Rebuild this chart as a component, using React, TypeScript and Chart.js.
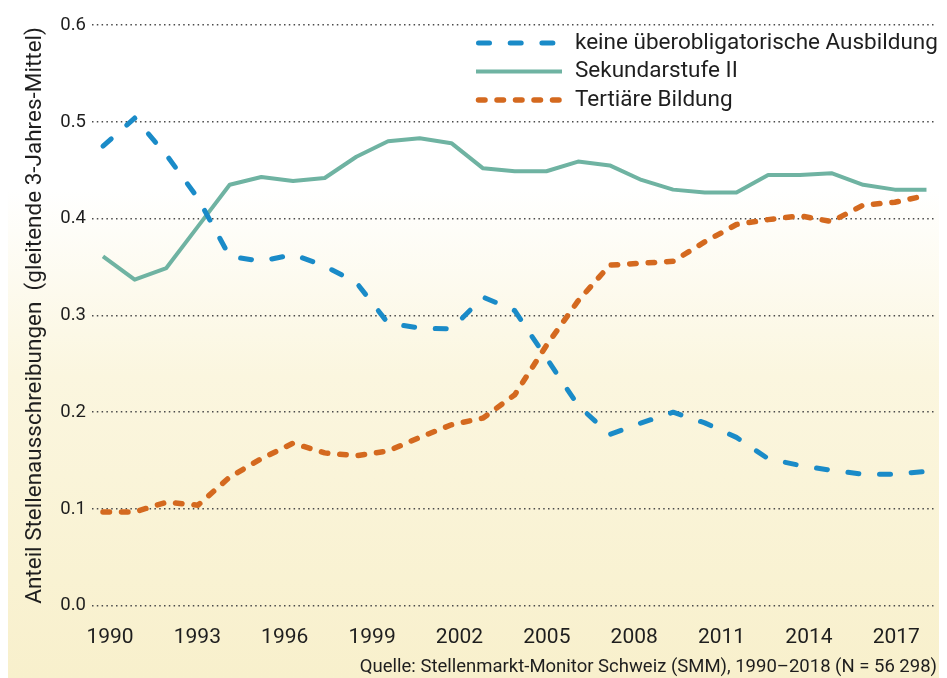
import React, { useEffect, useRef } from "react";
import { Chart, registerables } from "chart.js";

Chart.register(...registerables);

// ---- data -------------------------------------------------------------
// 3-year moving averages, centred years 1991–2017
const years = [
  1991, 1992, 1993, 1994, 1995, 1996, 1997, 1998, 1999, 2000, 2001, 2002, 2003, 2004,
  2005, 2006, 2007, 2008, 2009, 2010, 2011, 2012, 2013, 2014, 2015, 2016, 2017,
];
const keineUeberobligatorische = [
  0.475, 0.504, 0.466, 0.421, 0.361, 0.356, 0.363, 0.351, 0.334, 0.292, 0.287, 0.286, 0.319, 0.305,
  0.256, 0.207, 0.177, 0.189, 0.2, 0.189, 0.174, 0.152, 0.145, 0.14, 0.136, 0.136, 0.139,
];
const sekundarstufeII = [
  0.361, 0.337, 0.349, 0.392, 0.435, 0.443, 0.439, 0.442, 0.464, 0.48, 0.483, 0.478, 0.452, 0.449,
  0.449, 0.459, 0.455, 0.44, 0.43, 0.427, 0.427, 0.445, 0.445, 0.447, 0.435, 0.43, 0.43,
];
const tertiaereBildung = [
  0.097, 0.097, 0.107, 0.104, 0.133, 0.152, 0.168, 0.158, 0.155, 0.16, 0.174, 0.187, 0.194, 0.218,
  0.269, 0.315, 0.352, 0.354, 0.356, 0.376, 0.394, 0.399, 0.403, 0.397, 0.414, 0.417, 0.424,
];
const seriesLabels = ["keine überobligatorische Ausbildung", "Sekundarstufe II", "Tertiäre Bildung"];
const xTickYears = [1990, 1993, 1996, 1999, 2002, 2005, 2008, 2011, 2014, 2017];
const yTickValues = [0, 0.1, 0.2, 0.3, 0.4, 0.5, 0.6];
const yAxisTitle = "Anteil Stellenausschreibungen  (gleitende 3-Jahres-Mittel)";
const sourceNote = "Quelle: Stellenmarkt-Monitor Schweiz (SMM), 1990–2018 (N = 56 298)";

// ---- styles -------------------------------------------------------------
const FONT = "Roboto, 'Noto Sans', sans-serif";
const TEXT = "#1e1e1e";
const BLUE = "#1a8bc8";
const GREEN = "#6fb3a2";
const ORANGE = "#d4691f";
const W = 931;
const H = 670;

const legendPlugin = {
  id: "lineLegend",
  afterDraw(chart: any) {
    const ctx = chart.ctx as CanvasRenderingContext2D;
    const x0 = 468;
    const len = 86;
    const top = 35;
    const row = 28.5;
    ctx.save();
    chart.data.datasets.forEach((ds: any, i: number) => {
      const y = top + i * row;
      ctx.beginPath();
      ctx.strokeStyle = ds.borderColor;
      ctx.lineWidth = ds.borderWidth;
      ctx.lineCap = ds.borderCapStyle;
      ctx.setLineDash(ds.borderDash || []);
      ctx.moveTo(x0 + (ds.borderCapStyle === "round" ? 2.5 : 0), y);
      ctx.lineTo(x0 + len, y);
      ctx.stroke();
      ctx.setLineDash([]);
      ctx.fillStyle = TEXT;
      ctx.font = `22.5px ${FONT}`;
      ctx.textBaseline = "middle";
      ctx.textAlign = "left";
      ctx.fillText(ds.label, x0 + len + 13, y);
    });
    ctx.restore();
  },
};

export default function App() {
  const ref = useRef<HTMLCanvasElement>(null);

  useEffect(() => {
    const canvas = ref.current;
    if (!canvas) return;
    const toPoints = (arr: number[]) => years.map((yr, i) => ({ x: yr, y: arr[i] }));
    const chart = new Chart(canvas, {
      type: "line",
      data: {
        datasets: [
          {
            label: seriesLabels[0],
            data: toPoints(keineUeberobligatorische),
            borderColor: BLUE,
            borderWidth: 5,
            borderDash: [11, 20.7],
            borderCapStyle: "round",
            borderJoinStyle: "round",
            pointRadius: 0,
            fill: false,
            tension: 0,
            xAxisID: "xd",
          },
          {
            label: seriesLabels[1],
            data: toPoints(sekundarstufeII),
            borderColor: GREEN,
            borderWidth: 4,
            borderCapStyle: "butt",
            borderJoinStyle: "round",
            pointRadius: 0,
            fill: false,
            tension: 0,
            xAxisID: "xd",
          },
          {
            label: seriesLabels[2],
            data: toPoints(tertiaereBildung),
            borderColor: ORANGE,
            borderWidth: 5.5,
            borderDash: [6.5, 12],
            borderCapStyle: "round",
            borderJoinStyle: "round",
            pointRadius: 0,
            fill: false,
            tension: 0,
            xAxisID: "xd",
          },
        ],
      } as any,
      options: {
        animation: false,
        responsive: false,
        layout: { padding: { top: 15, right: 2, bottom: 0, left: 0 } },
        plugins: {
          legend: { display: false },
          tooltip: { enabled: false },
          subtitle: {
            display: true,
            position: "bottom",
            align: "end",
            text: sourceNote,
            color: TEXT,
            font: { family: FONT, size: 18.5, weight: "normal" },
            padding: { top: 7, bottom: 0 },
          },
        },
        scales: {
          x: {
            type: "linear",
            position: "bottom",
            min: 1989.3825,
            max: 2018.3725,
            afterBuildTicks: (s: any) => {
              s.ticks = xTickYears.map((v) => ({ value: v }));
            },
            afterFit: (s: any) => {
              s.height = 43;
            },
            grid: { display: false, drawTicks: false },
            border: { display: false },
            ticks: {
              callback: (v: any) => String(v),
              color: TEXT,
              font: { family: FONT, size: 21 },
              padding: 19,
              maxRotation: 0,
              minRotation: 0,
              autoSkip: false,
            },
          },
          xd: {
            type: "linear",
            display: false,
            min: 1990.653,
            max: 2017.309,
          },
          y: {
            type: "linear",
            min: 0,
            max: 0.6,
            afterBuildTicks: (s: any) => {
              s.ticks = yTickValues.map((v) => ({ value: v }));
            },
            afterFit: (s: any) => {
              s.width = 84;
            },
            ticks: {
              callback: (v: any) => Number(v).toFixed(1),
              color: TEXT,
              font: { family: FONT, size: 18.5 },
              padding: 6,
            },
            grid: { color: "#4a4a4a", lineWidth: 1.5, drawTicks: false },
            border: { display: false, dash: [1.5, 3.3] },
            title: {
              display: true,
              text: yAxisTitle,
              color: TEXT,
              font: { family: FONT, size: 22.5 },
              padding: { top: 13.5, bottom: 0 },
            },
          },
        },
      } as any,
      plugins: [legendPlugin],
    });
    return () => chart.destroy();
  }, []);

  return (
    <div
      style={{
        position: "absolute",
        left: 8,
        top: 8,
        width: W,
        height: H,
        background: "linear-gradient(to bottom, #ffffff 0%, #ffffff 27%, #fbf6df 55%, #f8f0cc 100%)",
      }}
    >
      <canvas ref={ref} width={W} height={H} style={{ display: "block", width: W, height: H }} />
    </div>
  );
}
